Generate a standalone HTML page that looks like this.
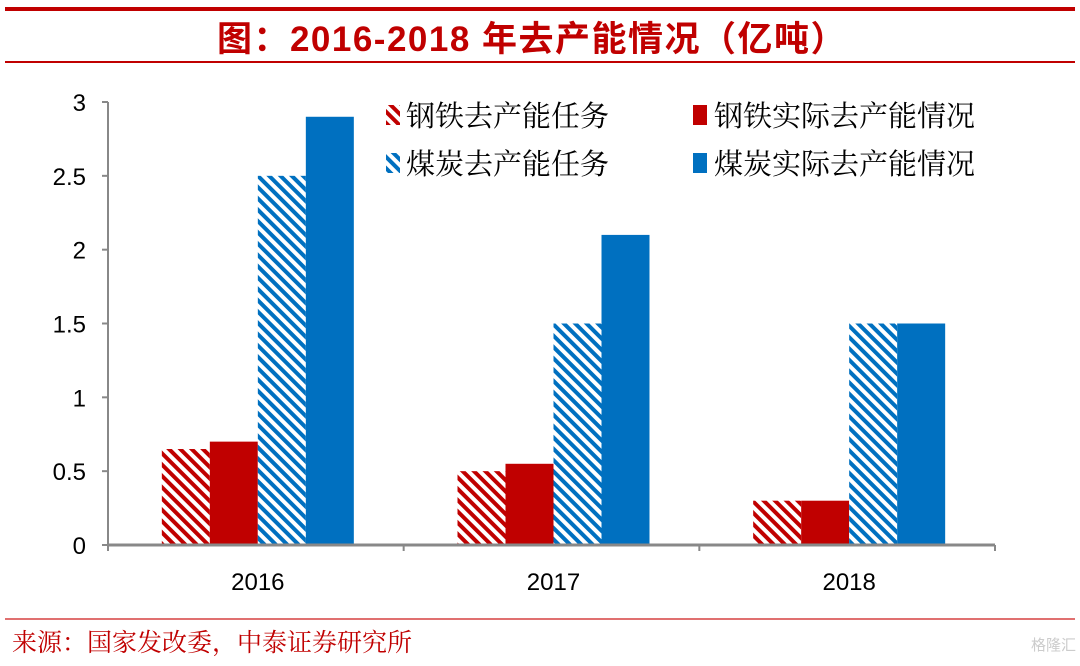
<!DOCTYPE html>
<html><head><meta charset="utf-8"><style>
body{margin:0;background:#fff;}
svg text{font-family:"Liberation Sans","Noto Sans CJK SC",sans-serif;}
svg text.cj{font-family:"Liberation Serif","Noto Serif CJK SC",serif;}
</style></head><body>
<svg width="1080" height="661" viewBox="0 0 1080 661">
<defs>
<pattern id="hr" patternUnits="userSpaceOnUse" width="8" height="8" patternTransform="rotate(-45)"><rect width="8" height="8" fill="#fff"/><rect width="4" height="8" fill="#c00000"/></pattern>
<pattern id="hb" patternUnits="userSpaceOnUse" width="8" height="8" patternTransform="rotate(-45)"><rect width="8" height="8" fill="#fff"/><rect width="4" height="8" fill="#0070c0"/></pattern>
</defs>
<rect x="5" y="7" width="1070" height="4" fill="#c00000"/>
<text x="532" y="51" text-anchor="middle" font-size="35" font-weight="bold" fill="#c00000" letter-spacing="1.5">图：2016-2018 年去产能情况（亿吨）</text>
<rect x="5" y="61" width="1070" height="2" fill="#c00000"/>
<g id="axes"></g>
<g id="bars"></g>
<g>
<rect x="386" y="105" width="14" height="20" fill="url(#hr)"/>
<text class="cj" x="406" y="126" font-size="29" fill="#000">钢铁去产能任务</text>
<rect x="693" y="105" width="14" height="20" fill="#c00000"/>
<text class="cj" x="714" y="126" font-size="29" fill="#000">钢铁实际去产能情况</text>
<rect x="386" y="153" width="14" height="20" fill="url(#hb)"/>
<text class="cj" x="406" y="174" font-size="29" fill="#000">煤炭去产能任务</text>
<rect x="693" y="153" width="14" height="20" fill="#0070c0"/>
<text class="cj" x="714" y="174" font-size="29" fill="#000">煤炭实际去产能情况</text>
</g>
<rect x="5" y="618" width="1070" height="2" fill="#e07070"/>
<text class="cj" x="12" y="651" font-size="25" fill="#c00000">来源：国家发改委，中泰证券研究所</text>
<text x="1076" y="650" text-anchor="end" font-size="15" fill="#ccc">格隆汇</text>
</svg>
<script>
const categories=["2016","2017","2018"];
const steelTask=[0.65,0.5,0.3];
const steelActual=[0.7,0.55,0.3];
const coalTask=[2.5,1.5,1.5];
const coalActual=[2.9,2.1,1.5];
const yTicks=[0,0.5,1,1.5,2,2.5,3];
const NS="http://www.w3.org/2000/svg";
const x0=108,x1=995,yB=545,yT=102,yMax=3;
const gw=(x1-x0)/categories.length,bw=48;
const ys=v=>yB-(v/yMax)*(yB-yT);
function mk(t,a,p){const e=document.createElementNS(NS,t);for(const k in a)e.setAttribute(k,a[k]);p.appendChild(e);return e;}
const ax=document.getElementById('axes'),bg=document.getElementById('bars');
let l=mk('line',{x1:x0,y1:yT,x2:x0,y2:yB,stroke:'#888','stroke-width':2},ax);


yTicks.forEach(v=>{
 const t=mk('line',{x1:x0-6,y1:ys(v),x2:x0,y2:ys(v),stroke:'#888','stroke-width':2},ax);
 
 
 const tx=mk('text',{x:86,y:ys(v)+9,'text-anchor':'end','font-size':24,fill:'#000'},ax);
 tx.textContent=v;
 
 
});
const series=[[steelTask,'url(#hr)','steel-task'],[steelActual,'#c00000','steel-actual'],[coalTask,'url(#hb)','coal-task'],[coalActual,'#0070c0','coal-actual']];
categories.forEach((c,i)=>{
 const gx=x0+gw*i,cx=gx+gw/2+2;
 series.forEach((s,j)=>{
  const v=s[0][i];
  const r=mk('rect',{x:cx-2*bw+j*bw,y:ys(v),width:bw,height:yB-ys(v),fill:s[1]},bg);
  
  
 });
 const t=mk('text',{x:cx,y:590,'text-anchor':'middle','font-size':24,fill:'#000'},ax);
 t.textContent=c;
 
 
});
for(let i=0;i<=categories.length;i++){
 const tk=mk('line',{x1:x0+gw*i,y1:yB,x2:x0+gw*i,y2:yB+6,stroke:'#888','stroke-width':2},ax);
 
 
}
const xa=mk('line',{x1:x0,y1:yB,x2:x1,y2:yB,stroke:'#888','stroke-width':3},bg);


</script>
</body></html>
